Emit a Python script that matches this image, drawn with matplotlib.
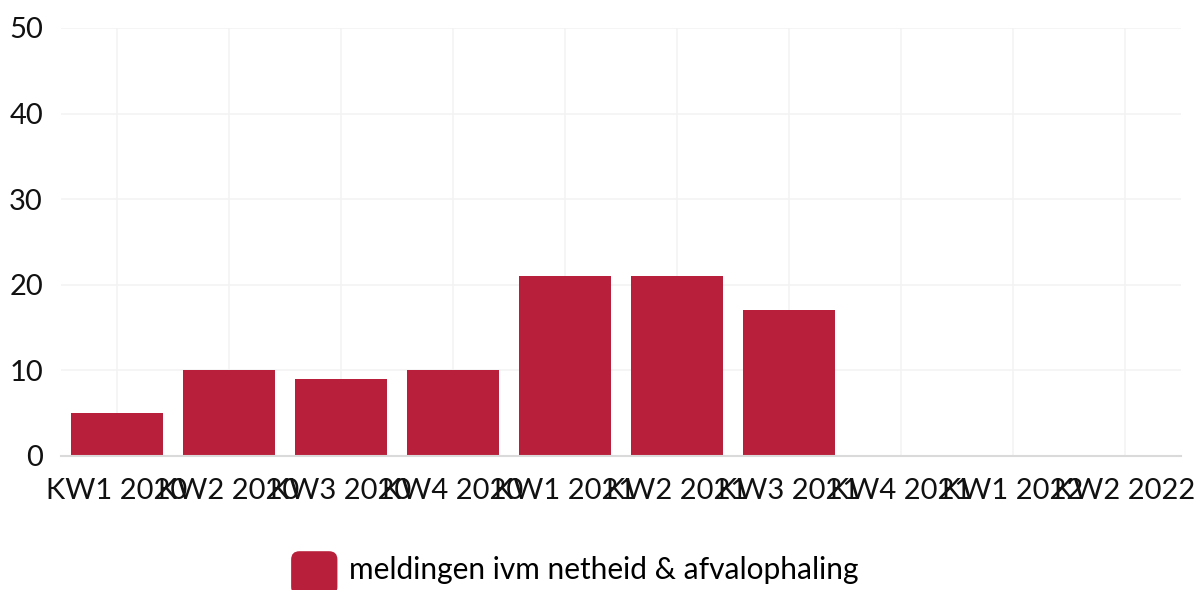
import matplotlib
matplotlib.use("Agg")
import matplotlib.pyplot as plt
from matplotlib.patches import FancyBboxPatch
from matplotlib.container import BarContainer
from matplotlib.legend_handler import HandlerPatch

categories = ["KW1 2020", "KW2 2020", "KW3 2020", "KW4 2020", "KW1 2021",
              "KW2 2021", "KW3 2021", "KW4 2021", "KW1 2022", "KW2 2022"]
meldingen = [5, 10, 9, 10, 21, 21, 17, 0, 0, 0]
series_label = "meldingen ivm netheid & afvalophaling"
y_ticks = [0, 10, 20, 30, 40, 50]

bar_color = "#B81F3B"
grid_color = "#F3F3F3"

plt.rcParams["font.family"] = ["Lato", "DejaVu Sans"]

fig = plt.figure(figsize=(12.04, 5.90), dpi=100)
ax = fig.add_axes([61 / 1204, 1 - 456 / 590, 1120 / 1204, 428 / 590])

x = list(range(len(categories)))
ax.bar(x, meldingen, width=0.82, color=bar_color, label=series_label, zorder=3)

ax.set_xlim(-0.5, len(categories) - 0.5)
ax.set_ylim(0, 50)
ax.set_yticks(y_ticks)
ax.set_xticks(x)
ax.set_xticklabels(categories)

ax.grid(True, color=grid_color, linewidth=1.2, zorder=0)
for side in ["top", "right", "left"]:
    ax.spines[side].set_visible(False)
ax.spines["bottom"].set_color("#DADADA")
ax.spines["bottom"].set_linewidth(1.5)
ax.spines["bottom"].set_zorder(4)

ax.tick_params(axis="both", length=0, labelsize=21, colors="#111111")
ax.tick_params(axis="y", pad=13)
ax.tick_params(axis="x", pad=16)


class RoundedHandler(HandlerPatch):
    def create_artists(self, legend, orig_handle, xdescent, ydescent,
                       width, height, fontsize, trans):
        p = FancyBboxPatch((-xdescent, -ydescent - 5), width, height + 4,
                           boxstyle="round,pad=0,rounding_size=6",
                           facecolor=bar_color, edgecolor="none",
                           transform=trans)
        return [p]


handles, labels = ax.get_legend_handles_labels()
fig.legend(handles, labels, loc="center", bbox_to_anchor=(575 / 1204, 1 - 569 / 590),
           frameon=False, fontsize=21.5, handlelength=1.55, handleheight=1.6,
           handletextpad=0.4, borderpad=0,
           handler_map={BarContainer: RoundedHandler()})

fig.savefig("out.png", dpi=100)
